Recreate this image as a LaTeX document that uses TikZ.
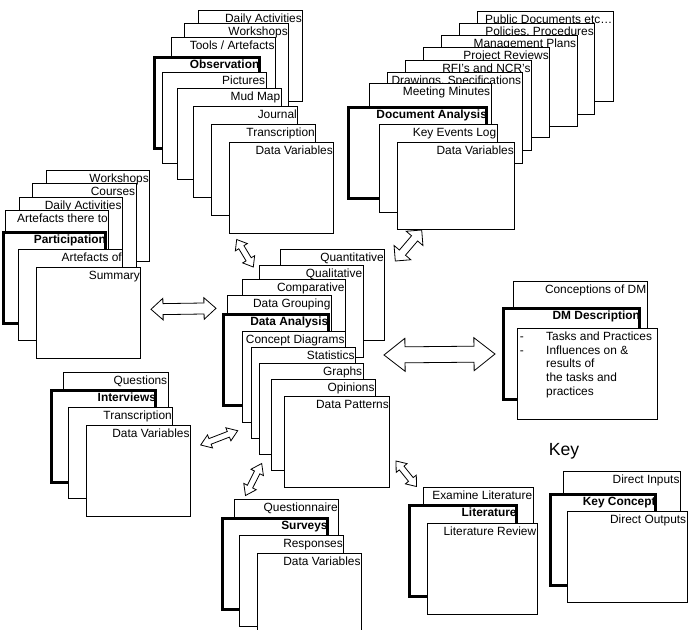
\documentclass[tikz,border=0pt]{standalone}
\usepackage{fontspec}
\setmainfont{Liberation Sans}
\usetikzlibrary{calc}

\newcommand{\labelfont}{\fontsize{11.9}{13.7}\selectfont}

\tikzset{
  pagebox/.style={draw, fill=white, line width=0.9pt, inner sep=0pt,
    minimum height=91pt, anchor=north west},
  keybox/.style={line width=3pt},
  pagelabel/.style={anchor=north east, inner xsep=1.2pt, inner ysep=3.5pt,
    text height=8.6pt, text depth=2.4pt, font=\labelfont},
  arrowbox/.style={draw, fill=white, line width=0.8pt, line join=miter}
}

% one page of a stack: [extra style]{name}{top left}{width}{label}
\newcommand{\docpage}[5][]{%
  \node[pagebox, minimum width=#4pt, #1] (#2) at (#3) {};
  \node[pagelabel] (#2-lbl) at (#2.north east) {#5};%
}

% outlined double block arrow: {from}{to}{half shaft}{half head}{head length}
\newcommand{\blockarrow}[5]{%
  \draw[arrowbox] (#1)
    -- ($(#1)!#5!(#2)!#4!90:(#2)$)
    -- ($(#1)!#5!(#2)!#3!90:(#2)$)
    -- ($(#2)!#5!(#1)!#3!-90:(#1)$)
    -- ($(#2)!#5!(#1)!#4!-90:(#1)$)
    -- (#2)
    -- ($(#2)!#5!(#1)!#4!90:(#1)$)
    -- ($(#2)!#5!(#1)!#3!90:(#1)$)
    -- ($(#1)!#5!(#2)!#3!-90:(#2)$)
    -- ($(#1)!#5!(#2)!#4!-90:(#2)$)
    -- cycle;%
}

\begin{document}
\begin{tikzpicture}[x=1pt,y=-1pt]
  \clip (0,0) rectangle (689,630);

  % Observation
  \docpage{obs-da}{198.3,10}{104}{Daily Activities}
  \docpage{obs-ws}{184.3,23.3}{104}{Workshops}
  \docpage{obs-ta}{171,36.7}{104}{Tools / Artefacts}
  \docpage[keybox]{obs-key}{152.7,55.7}{105}{\bfseries Observation}
  \docpage{obs-pic}{161.7,71.7}{104}{Pictures}
  \docpage{obs-mud}{176.7,87.7}{104}{Mud Map}
  \docpage{obs-jnl}{193.3,106}{104}{Journal}
  \docpage{obs-trn}{211.3,124}{104}{Transcription}
  \docpage{obs-dv}{229.3,141.7}{104}{Data Variables}

  % Document Analysis
  \docpage[minimum height=90.3pt]{doc-pub}{476.7,10.7}{136}{Public Documents etc…}
  \docpage{doc-pol}{459,22.7}{135.3}{Policies, Procedures}
  \docpage{doc-mgt}{440.7,35}{136}{Management Plans}
  \docpage[minimum height=89.4pt]{doc-prj}{422.7,47.3}{126.6}{Project Reviews}
  \docpage[minimum height=90pt]{doc-rfi}{405,60}{126}{RFI's and NCR's}
  \docpage{doc-drw}{386.7,71.7}{135}{Drawings, Specifications}
  \docpage{doc-mm}{369,83.3}{121.7}{Meeting Minutes}
  \docpage[keybox]{doc-key}{347.3,105.7}{138}{\bfseries Document Analysis}
  \docpage[minimum height=87.7pt]{doc-kel}{379,124}{117.7}{Key Events Log}
  \docpage[minimum height=87pt]{doc-dv}{396.7,142.3}{117.6}{Data Variables}

  % Participation
  \docpage{par-ws}{45.7,170}{103.6}{Workshops}
  \docpage{par-crs}{32.3,183.3}{103.4}{Courses}
  \docpage{par-da}{19,196.7}{103}{Daily Activities}
  \docpage{par-atr}{5,210}{103.3}{Artefacts there to}
  \docpage[keybox]{par-key}{1.8,230.7}{102.5}{\bfseries Participation}
  \docpage{par-aof}{18.3,249.3}{104}{Artefacts of}
  \docpage{par-sum}{36,267.3}{104.3}{Summary}

  % Data Analysis
  \docpage{dat-qnt}{280,249}{104.3}{Quantitative}
  \docpage[minimum height=92pt]{dat-qlt}{259,265}{103.7}{Qualitative}
  \docpage{dat-cmp}{241.7,279.3}{103.3}{Comparative}
  \docpage{dat-grp}{227.3,295}{103.7}{Data Grouping}
  \docpage[keybox]{dat-key}{221.7,312.7}{105}{\bfseries Data Analysis}
  \docpage{dat-cd}{241.7,330.7}{103.3}{Concept Diagrams}
  \docpage{dat-st}{250.7,347.3}{104.3}{Statistics}
  \docpage{dat-gr}{259,363.3}{103.7}{Graphs}
  \docpage{dat-op}{271,379.3}{104}{Opinions}
  \docpage{dat-pat}{284,396}{105.3}{Data Patterns}

  % DM Description
  \docpage{dm-con}{512.7,280.7}{134}{Conceptions of DM}
  \docpage[keybox, minimum height=91.6pt]{dm-key}{502.3,306.7}{136}{\bfseries DM Description}
  \node[pagebox, minimum width=139.4pt, minimum height=90.7pt] (dm-tsk) at (517.3,328.3) {};
  \node[anchor=north west, inner sep=2.3pt, font=\labelfont] (dm-tsk-txt) at (dm-tsk.north west)
    {\begin{tabular}{@{}p{26.4pt}@{}l@{}}
      - & Tasks and Practices\\
      - & Influences on \&\\
        & results of\\
        & the tasks and\\
        & practices
    \end{tabular}};

  % Interviews
  \docpage{int-q}{63.3,372.3}{104.4}{Questions}
  \docpage[keybox, minimum height=91.7pt]{int-key}{50,389}{104.3}{\bfseries Interviews}
  \docpage{int-trn}{68.3,407.3}{104}{Transcription}
  \docpage{int-dv}{86,425}{104}{Data Variables}

  % Surveys
  \docpage{srv-q}{234,499.3}{104.3}{Questionnaire}
  \docpage[keybox]{srv-key}{220.7,516.7}{105.3}{\bfseries Surveys}
  \docpage{srv-rsp}{239.3,535}{104}{Responses}
  \docpage{srv-dv}{256.7,552.7}{104.3}{Data Variables}

  % Literature
  \docpage{lit-ex}{422.7,486.7}{110}{Examine Literature}
  \docpage[keybox]{lit-key}{408.3,504}{106.7}{\bfseries Literature}
  \docpage{lit-rev}{426.7,522.7}{110}{Literature Review}

  % Key
  \node[anchor=base, inner sep=0pt, font=\fontsize{17.6}{20}\selectfont] (key-title) at (564,455.6) {Key};
  \docpage{key-in}{562.7,470.7}{117.3}{Direct Inputs}
  \docpage[keybox]{key-key}{549.3,492.7}{104.7}{\bfseries Key Concept}
  \docpage{key-out}{566.7,510.7}{120}{Direct Outputs}

  % Arrow ends
  \coordinate (par-a) at (151,309.3);
  \coordinate (dat-a1) at (216,308.3);
  \coordinate (obs-a) at (236.7,239.5);
  \coordinate (dat-a2) at (253.3,267);
  \coordinate (doc-a) at (421.7,230);
  \coordinate (dat-a3) at (395.3,261);
  \coordinate (dat-a4) at (384,355);
  \coordinate (dm-a) at (495,354);
  \coordinate (int-a) at (200.7,445);
  \coordinate (dat-a5) at (237.7,430.7);
  \coordinate (dat-a6) at (261.7,463.5);
  \coordinate (srv-a) at (245.5,495.5);
  \coordinate (dat-a7) at (396,461);
  \coordinate (lit-a) at (416.5,486.5);

  % Arrows
  \blockarrow{par-a}{dat-a1}{5.5pt}{10.8pt}{12pt}
  \blockarrow{obs-a}{dat-a2}{3pt}{7pt}{9pt}
  \blockarrow{doc-a}{dat-a3}{4pt}{11pt}{11pt}
  \blockarrow{dat-a4}{dm-a}{8pt}{16.5pt}{21pt}
  \blockarrow{int-a}{dat-a5}{3pt}{7pt}{10pt}
  \blockarrow{dat-a6}{srv-a}{3pt}{7pt}{10pt}
  \blockarrow{dat-a7}{lit-a}{3pt}{7pt}{9pt}

\end{tikzpicture}
\end{document}
